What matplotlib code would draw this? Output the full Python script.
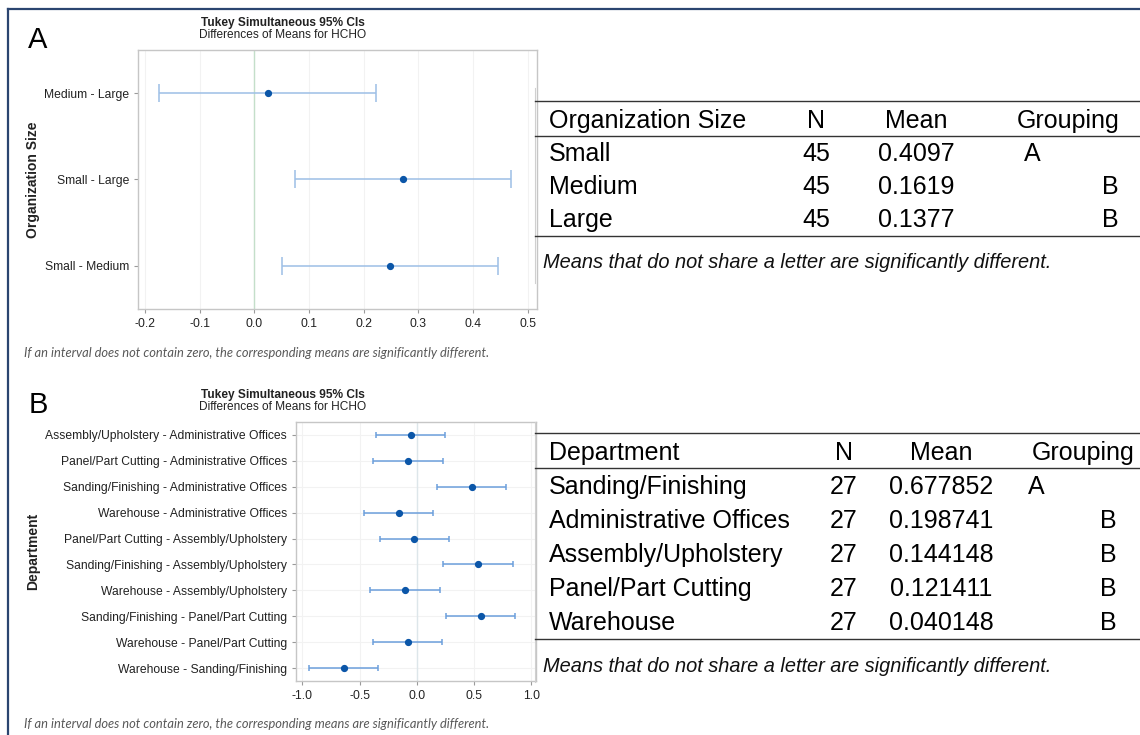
import matplotlib
matplotlib.use('Agg')
import matplotlib.pyplot as plt
from matplotlib.lines import Line2D

plt.rcParams['font.family'] = ['Liberation Sans', 'DejaVu Sans']
plt.rcParams['axes.unicode_minus'] = False

W, H = 1140, 735

# Tukey comparisons, organization size
size_pairs = ['Medium - Large', 'Small - Large', 'Small - Medium']
size_diff = [0.0242, 0.2720, 0.2478]
size_low = [-0.1747, 0.0745, 0.0505]
size_high = [0.2231, 0.4695, 0.4451]

# Tukey comparisons, department
dept_pairs = ['Assembly/Upholstery - Administrative Offices',
              'Panel/Part Cutting - Administrative Offices',
              'Sanding/Finishing - Administrative Offices',
              'Warehouse - Administrative Offices',
              'Panel/Part Cutting - Assembly/Upholstery',
              'Sanding/Finishing - Assembly/Upholstery',
              'Warehouse - Assembly/Upholstery',
              'Sanding/Finishing - Panel/Part Cutting',
              'Warehouse - Panel/Part Cutting',
              'Warehouse - Sanding/Finishing']
dept_diff = [-0.0546, -0.0773, 0.4791, -0.1586, -0.0227, 0.5337, -0.1040, 0.5564, -0.0813, -0.6377]
dept_low = [-0.3566, -0.3793, 0.1771, -0.4606, -0.3247, 0.2317, -0.4060, 0.2544, -0.3833, -0.9397]
dept_high = [0.2474, 0.2247, 0.7811, 0.1434, 0.2793, 0.8357, 0.1980, 0.8584, 0.2207, -0.3357]

# grouping tables
org_sizes = ['Small', 'Medium', 'Large']
org_n = [45, 45, 45]
org_means = [0.4097, 0.1619, 0.1377]
org_groups = ['A', 'B', 'B']

dept_names = ['Sanding/Finishing', 'Administrative Offices', 'Assembly/Upholstery',
              'Panel/Part Cutting', 'Warehouse']
dept_n = [27, 27, 27, 27, 27]
dept_means = [0.677852, 0.198741, 0.144148, 0.121411, 0.040148]
dept_groups = ['A', 'B', 'B', 'B', 'B']

FOOTNOTE = 'If an interval does not contain zero, the corresponding means are significantly different.'
SHARE_NOTE = 'Means that do not share a letter are significantly different.'


def px(x, y):
    return x / W, 1 - y / H


def fig_text(fig, x, y, s, **kw):
    fx, fy = px(x, y)
    return fig.text(fx, fy, s, **kw)


def fig_line(fig, x0, x1, y0, y1, **kw):
    a = px(x0, y0)
    b = px(x1, y1)
    fig.add_artist(Line2D([a[0], b[0]], [a[1], b[1]], **kw))


def intervalPlot(fig, box, labels, diff, low, high, xlim, xticks, ylabel,
                 bar_color, capsize, zero_color, hgrid):
    left, top, right, bottom = box
    ax = fig.add_axes([left / W, 1 - bottom / H, (right - left) / W, (bottom - top) / H])
    ypos = list(range(1, len(labels) + 1))
    xerr = [[d - lo for d, lo in zip(diff, low)], [hi - d for d, hi in zip(diff, high)]]
    ax.errorbar(diff, ypos, xerr=xerr, fmt='none', ecolor=bar_color, elinewidth=1.1,
                capsize=capsize, capthick=1.1, zorder=3)
    ax.plot(diff, ypos, 'o', color='#0b56a8', markersize=4.2, zorder=4)
    ax.axvline(0, color=zero_color, lw=1.0, zorder=2)
    ax.set_xlim(*xlim)
    ax.set_ylim(len(labels) + 0.5, 0.5)
    ax.set_xticks(xticks)
    ax.set_xticklabels(['%.1f' % t for t in xticks])
    ax.set_yticks(ypos)
    ax.set_yticklabels(labels)
    for t in xticks:
        ax.axvline(t, color='#f2f2f2', lw=0.8, zorder=0)
    if hgrid:
        for y in ypos:
            ax.axhline(y, color='#f2f2f2', lw=0.8, zorder=0)
    ax.tick_params(labelsize=8.7, colors='#222222', length=3, width=0.8)
    ax.tick_params(axis='both', color='#9a9a9a')
    for sp in ax.spines.values():
        sp.set_color('#c6c6c6')
        sp.set_linewidth(1.0)
    ax.set_ylabel(ylabel, fontsize=10, fontweight='bold', color='#222222')
    ax.yaxis.set_label_coords((40 - left) / (right - left), 0.5)
    return ax


def groupingTable(fig, top, header, names, ns, means, groups, fmt, cols, row_h):
    x_name, x_n, x_mean, x_grp, x_a, x_b = cols
    fig_line(fig, 535, W, top, top, color='#333333', lw=1.0)
    hy = top + 20
    fs = 18
    fig_text(fig, x_name, hy, header, fontsize=fs, va='center', ha='left')
    fig_text(fig, x_n, hy, 'N', fontsize=fs, va='center', ha='center')
    fig_text(fig, x_mean, hy, 'Mean', fontsize=fs, va='center', ha='center')
    fig_text(fig, x_grp, hy, 'Grouping', fontsize=fs, va='center', ha='center')
    fig_line(fig, 535, W, top + 35, top + 35, color='#333333', lw=1.0)
    y = hy
    for name, n, m, g in zip(names, ns, means, groups):
        y += row_h
        fig_text(fig, x_name, y, name, fontsize=fs, va='center', ha='left')
        fig_text(fig, x_n, y, str(n), fontsize=fs, va='center', ha='center')
        fig_text(fig, x_mean, y, fmt % m, fontsize=fs, va='center', ha='center')
        fig_text(fig, x_a if g == 'A' else x_b, y, g, fontsize=fs, va='center', ha='center')
    bottom = y + 16
    fig_line(fig, 535, W, bottom, bottom, color='#333333', lw=1.0)
    fig_text(fig, 543, bottom + 27, SHARE_NOTE, fontsize=14.4, style='italic',
             va='center', ha='left', color='#111111')


def main():
    fig = plt.figure(figsize=(W / 100, H / 100), dpi=100)
    fig.patch.set_facecolor('white')

    # navy frame around the panel
    fig_line(fig, 8, 8, 9, H, color='#2b4570', lw=1.6)
    fig_line(fig, 8, W, 9, 9, color='#2b4570', lw=1.6)

    # panel A
    fig_text(fig, 38, 40, 'A', fontsize=21, ha='center', va='center')
    fig_text(fig, 283, 23, 'Tukey Simultaneous 95% CIs', fontsize=8.6, fontweight='bold',
             ha='center', va='center', color='#222222')
    fig_text(fig, 283, 35, 'Differences of Means for HCHO', fontsize=8.6,
             ha='center', va='center', color='#222222')
    intervalPlot(fig, (138, 50, 537, 309), size_pairs, size_diff, size_low, size_high,
                 (-0.213, 0.517), [-0.2, -0.1, 0.0, 0.1, 0.2, 0.3, 0.4, 0.5],
                 'Organization Size', '#9dbfe6', 6.5, '#c4dfca', False)
    fig_text(fig, 24, 353, FOOTNOTE, fontsize=9.3, style='italic', family='Lato',
             color='#595959', va='center', ha='left')

    # panel B
    fig_text(fig, 38, 405, 'B', fontsize=21, ha='center', va='center')
    fig_text(fig, 283, 395, 'Tukey Simultaneous 95% CIs', fontsize=8.6, fontweight='bold',
             ha='center', va='center', color='#222222')
    fig_text(fig, 283, 407, 'Differences of Means for HCHO', fontsize=8.6,
             ha='center', va='center', color='#222222')
    intervalPlot(fig, (296, 422, 536, 681), dept_pairs, dept_diff, dept_low, dept_high,
                 (-1.055, 1.04), [-1.0, -0.5, 0.0, 0.5, 1.0],
                 'Department', '#6c9fdc', 2.5, '#dde6ea', True)
    fig_text(fig, 24, 724, FOOTNOTE, fontsize=9.3, style='italic', family='Lato',
             color='#595959', va='center', ha='left')

    # grouping tables
    fig_line(fig, 535, 535, 88, 283, color='#d0d0d0', lw=0.8)
    fig_line(fig, 535, 535, 422, 682, color='#d0d0d0', lw=0.8)
    groupingTable(fig, 101, 'Organization Size', org_sizes, org_n, org_means, org_groups,
                  '%.4f', (549, 816, 916, 1068, 1032, 1110), 33)
    groupingTable(fig, 433, 'Department', dept_names, dept_n, dept_means, dept_groups,
                  '%.6f', (549, 844, 941, 1083, 1036, 1108), 34)

    fig.savefig('out.png', dpi=100, facecolor='white')


if __name__ == '__main__':
    main()
